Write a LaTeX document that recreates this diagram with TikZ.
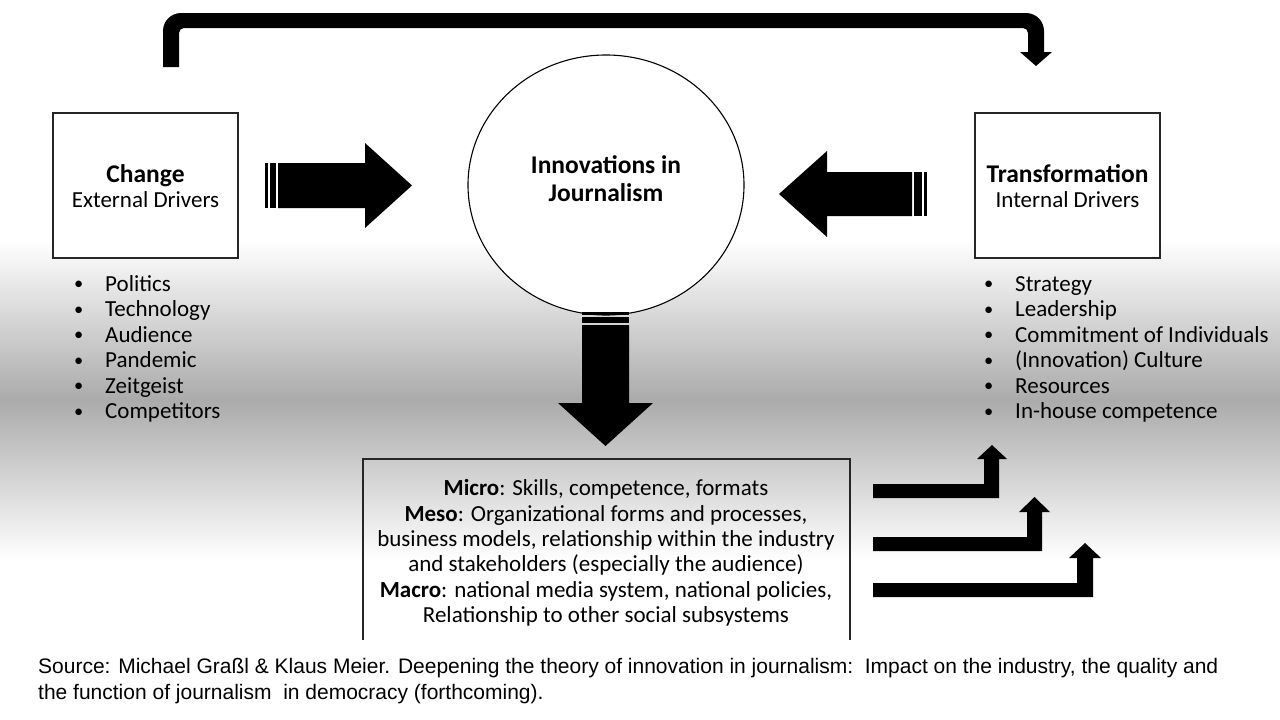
\documentclass[tikz,border=0pt]{standalone}
\usepackage{fontspec}
\usepackage{graphicx}
\setmainfont{Carlito}
\newfontfamily\capfont{Liberation Sans}
\usetikzlibrary{shapes.geometric}
\newcommand{\smallbul}{\raisebox{1.2pt}{\scalebox{0.8}{\textbullet}}}
\begin{document}
\begin{tikzpicture}[x=1pt,y=-1pt,
  driverbox/.style={draw=black!85, line width=1.2pt, fill=white, minimum width=185pt, minimum height=145pt, inner sep=0pt},
  blk/.style={fill=black},
  headfont/.style={font=\fontsize{25.5}{26}\selectfont\bfseries},
  bodyfont/.style={font=\fontsize{23}{25.3}\selectfont},
  boxhead/.style={headfont, anchor=base, inner sep=0pt},
  boxsub/.style={bodyfont, anchor=base, inner sep=0pt},
  item/.style={bodyfont, anchor=base west, inner sep=0pt},
  caption/.style={font=\capfont\fontsize{21}{26}\selectfont, anchor=base west, inner sep=0pt}]
\useasboundingbox (0,0) rectangle (1280,720);
\fill[white] (0,0) rectangle (1280,720);
% background gradient band
\shade[top color=white, bottom color=black!33] (0,240) rectangle (1280,400);
\shade[top color=black!33, bottom color=white] (0,400) rectangle (1280,560);

% top bent arrow
\fill (163,67) [rounded corners=18pt] -- (163,13) -- (1044,13) [sharp corners] -- (1044,52) -- (1052,52) -- (1036,66) -- (1020,52) -- (1028,52) [rounded corners=5pt] -- (1028,28) -- (179,28) [sharp corners] -- (179,67) -- cycle;

% driver boxes
\node[driverbox] (change) at (145.5,185.5) {};
\node[boxhead] (changeT) at (145.5,182) {Change};
\node[boxsub] (changeS) at (145.5,207) {External Drivers};
\node[driverbox] (transf) at (1067.5,185.5) {};
\node[boxhead] (transfT) at (1067.5,182) {Transformation};
\node[boxsub] (transfS) at (1067.5,207) {Internal Drivers};

% central ellipse
\node[ellipse, draw=black, line width=1.1pt, fill=white, minimum width=276pt, minimum height=260pt] (innov) at (606,185) {};
\node[headfont, anchor=base, inner sep=0pt] (innovA) at (606,173) {Innovations in};
\node[headfont, anchor=base, inner sep=0pt] (innovB) at (606,201) {Journalism};

% striped arrow pointing right
\fill[blk] (265,163) rectangle (268,208);
\fill[blk] (270,163) rectangle (276,208);
\fill[blk] (278,163) -- (365,163) -- (365,143) -- (412,185.5) -- (365,228) -- (365,208) -- (278,208) -- cycle;

% striped arrow pointing left
\fill[blk] (927,172) rectangle (924,216);
\fill[blk] (922,172) rectangle (914,216);
\fill[blk] (912,172) -- (827,172) -- (827,151) -- (779,194) -- (827,237) -- (827,216) -- (912,216) -- cycle;

% striped arrow pointing down
\fill[blk] (582,312) rectangle (629,315);
\fill[blk] (582,317) rectangle (629,323);
\fill[blk] (582,325) -- (582,403) -- (558,403) -- (605.5,446) -- (653,403) -- (629,403) -- (629,325) -- cycle;

% bullet lists
\foreach \t [count=\i] in {Politics,Technology,Audience,Pandemic,Zeitgeist,Competitors}
  \node[item] (ext\i) at (105,{291+25.5*(\i-1)}) {\llap{\smallbul\hspace{22pt}}\t};
\foreach \t [count=\i] in {Strategy,Leadership,Commitment of Individuals,(Innovation) Culture,Resources,In-house competence}
  \node[item] (int\i) at (1015,{291+25.5*(\i-1)}) {\llap{\smallbul\hspace{22pt}}\t};

% levels box (open at the bottom)
\coordinate (lvlA) at (363,640);
\coordinate (lvlB) at (850,459);
\coordinate (lvlC) at (850,640);
\draw[black!85, line width=1.2pt] (lvlA) |- (lvlB) -- (lvlC);
\node[bodyfont, align=center, inner sep=0pt] (levels) at (606,553) {\textbf{Micro}: Skills, competence, formats\\
\textbf{Meso}: Organizational forms and processes,\\
business models, relationship within the industry\\
and stakeholders (especially the audience)\\
\textbf{Macro}: national media system, national policies,\\
Relationship to other social subsystems};

% bent arrows
\fill[blk] (873,498) -- (999,498) -- (999,459) -- (1007,459) -- (992,445) -- (977,459) -- (984,459) -- (984,484) -- (873,484) -- cycle;
\fill[blk] (873,551) -- (1042,551) -- (1042,512) -- (1050,512) -- (1034.5,497) -- (1019,512) -- (1027,512) -- (1027,537) -- (873,537) -- cycle;
\fill[blk] (873,597) -- (1093,597) -- (1093,558) -- (1101,558) -- (1085,543) -- (1069,558) -- (1077,558) -- (1077,583) -- (873,583) -- cycle;

% caption
\node[caption] (cap1) at (38,673) {Source: Michael Graßl \& Klaus Meier. Deepening the theory of innovation in journalism:\ \ Impact on the industry, the quality and};
\node[caption] (cap2) at (38,699) {the function of journalism\ \ in democracy (forthcoming).};
\end{tikzpicture}
\end{document}
